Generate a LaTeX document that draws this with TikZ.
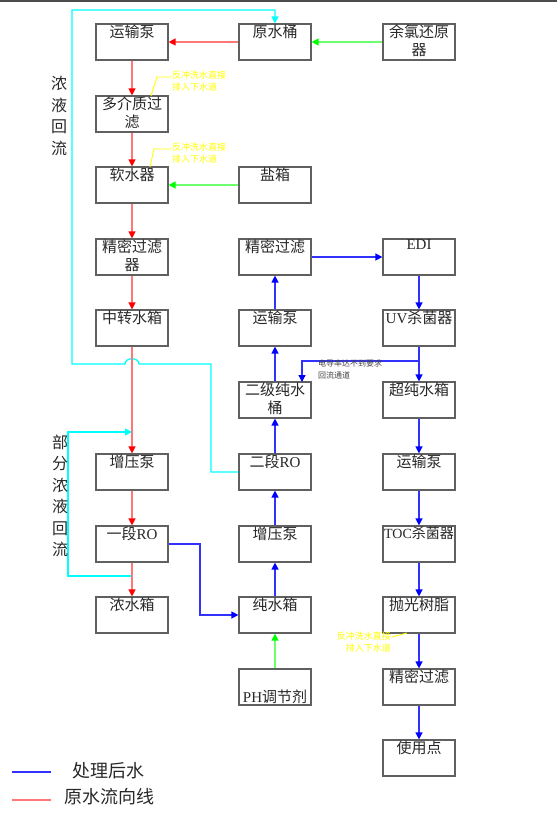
\documentclass[tikz,border=0pt]{standalone}
\usepackage{fontspec}
\setmainfont{Liberation Serif}
\newfontfamily\cjk{Noto Sans CJK SC}
\usetikzlibrary{arrows.meta}
\definecolor{boxgray}{RGB}{96,96,96}
\definecolor{redline}{RGB}{255,120,120}
\definecolor{redtip}{RGB}{255,0,0}
\definecolor{greenline}{RGB}{110,255,110}
\definecolor{greentip}{RGB}{0,255,0}
\definecolor{blueline}{RGB}{50,50,255}
\definecolor{bluetip}{RGB}{0,0,255}
\definecolor{cyanline}{RGB}{0,255,255}
\definecolor{notecol}{RGB}{255,255,0}
\definecolor{txt}{RGB}{40,40,40}
\begin{document}
\begin{tikzpicture}[x=1pt,y=-1pt,
  box/.style={draw=boxgray,line width=1.2pt,fill=white,minimum width=72pt,minimum height=36pt,inner sep=0pt},
  lbl/.style={anchor=north,inner sep=0pt,align=center,text=txt,font=\fontsize{15}{18}\selectfont\cjk},
  rarrow/.style={draw=redline,line width=1.3pt,-{Triangle[width=7pt,length=7pt,color=redtip]}},
  garrow/.style={draw=greenline,line width=1.3pt,-{Triangle[width=7pt,length=7pt,color=greentip]}},
  barrow/.style={draw=blueline,line width=1.3pt,-{Triangle[width=7pt,length=7pt,color=bluetip]}},
  carrow/.style={draw=cyanline,line width=1.3pt,-{Triangle[width=7pt,length=7pt,color=cyanline]}},
  note/.style={inner sep=0pt,text=notecol,font=\fontsize{9}{12}\selectfont\cjk},
  vlab/.style={inner sep=0pt,align=center,text=txt,font=\fontsize{16}{21.5}\selectfont\cjk}
]
\useasboundingbox (0,0) rectangle (557,813);
\fill[black!70] (0,0) rectangle (557,1.6);

% boxes column 1
\node[box] (a1) at (132,42) {};
\node[box] (a2) at (132,114) {};
\node[box] (a3) at (132,185) {};
\node[box] (a4) at (132,257) {};
\node[box] (a5) at (132,328) {};
\node[box] (a6) at (132,472) {};
\node[box] (a7) at (132,544) {};
\node[box] (a8) at (132,615) {};
% column 2
\node[box] (b1) at (275,42) {};
\node[box] (b2) at (275,185) {};
\node[box] (b3) at (275,257) {};
\node[box] (b4) at (275,328) {};
\node[box] (b5) at (275,400) {};
\node[box] (b6) at (275,472) {};
\node[box] (b7) at (275,544) {};
\node[box] (b8) at (275,615) {};
\node[box] (b9) at (275,687) {};
% column 3
\node[box] (c1) at (419,42) {};
\node[box] (c2) at (419,257) {};
\node[box] (c3) at (419,328) {};
\node[box] (c4) at (419,400) {};
\node[box] (c5) at (419,472) {};
\node[box] (c6) at (419,544) {};
\node[box] (c7) at (419,615) {};
\node[box] (c8) at (419,687) {};
\node[box] (c9) at (419,758) {};

% labels
\node[lbl] (ta1) at ([yshift=-1.5pt]a1.north) {运输泵};
\node[lbl] (ta2) at ([yshift=-1.5pt]a2.north) {多介质过\\滤};
\node[lbl] (ta3) at ([yshift=-1.5pt]a3.north) {软水器};
\node[lbl] (ta4) at ([yshift=-1.5pt]a4.north) {精密过滤\\器};
\node[lbl] (ta5) at ([yshift=-1.5pt]a5.north) {中转水箱};
\node[lbl] (ta6) at ([yshift=-1.5pt]a6.north) {增压泵};
\node[lbl] (ta7) at ([yshift=-1.5pt]a7.north) {一段{\rmfamily RO}};
\node[lbl] (ta8) at ([yshift=-1.5pt]a8.north) {浓水箱};
\node[lbl] (tb1) at ([yshift=-1.5pt]b1.north) {原水桶};
\node[lbl] (tb2) at ([yshift=-1.5pt]b2.north) {盐箱};
\node[lbl] (tb3) at ([yshift=-1.5pt]b3.north) {精密过滤};
\node[lbl] (tb4) at ([yshift=-1.5pt]b4.north) {运输泵};
\node[lbl] (tb5) at ([yshift=-1.5pt]b5.north) {二级纯水\\桶};
\node[lbl] (tb6) at ([yshift=-1.5pt]b6.north) {二段{\rmfamily RO}};
\node[lbl] (tb7) at ([yshift=-1.5pt]b7.north) {增压泵};
\node[lbl] (tb8) at ([yshift=-1.5pt]b8.north) {纯水箱};
\node[lbl,anchor=south] (tb9) at ([yshift=2pt]b9.south) {{\rmfamily PH}调节剂};
\node[lbl] (tc1) at ([yshift=-1.5pt]c1.north) {余氯还原\\器};
\node[lbl] (tc2) at ([yshift=-1.5pt]c2.north) {{\rmfamily EDI}};
\node[lbl] (tc3) at ([yshift=-1.5pt]c3.north) {{\rmfamily UV}杀菌器};
\node[lbl] (tc4) at ([yshift=-1.5pt]c4.north) {超纯水箱};
\node[lbl] (tc5) at ([yshift=-1.5pt]c5.north) {运输泵};
\node[lbl,font=\fontsize{14}{18}\selectfont\cjk] (tc6) at ([yshift=-1.5pt]c6.north) {{\rmfamily TOC}杀菌器};
\node[lbl] (tc7) at ([yshift=-1.5pt]c7.north) {抛光树脂};
\node[lbl] (tc8) at ([yshift=-1.5pt]c8.north) {精密过滤};
\node[lbl] (tc9) at ([yshift=-1.5pt]c9.north) {使用点};

% cyan return lines (drawn first, under red)
\draw[carrow] (b6.west) -- (211,472) -- (211,364) -- (139,364)
   .. controls (139,357) and (125,357) .. (125,364) -- (72,364) -- (72,10) -- (275,10) -- (b1.north);
\coordinate (p1) at (132,576);
\coordinate (p2) at (132,432);
\draw[carrow] (p1) -- (68,576) -- (68,432) -- (p2);

% red flow
\draw[rarrow] (b1.west) -- (a1.east);
\draw[rarrow] (a1.south) -- (a2.north);
\draw[rarrow] (a2.south) -- (a3.north);
\draw[rarrow] (a3.south) -- (a4.north);
\draw[rarrow] (a4.south) -- (a5.north);
\draw[rarrow] (a5.south) -- (a6.north);
\draw[rarrow] (a6.south) -- (a7.north);
\draw[rarrow] (a7.south) -- (a8.north);

% green
\draw[garrow] (c1.west) -- (b1.east);
\draw[garrow] (b2.west) -- (a3.east);
\draw[garrow] (b9.north) -- (b8.south);

% blue
\draw[barrow] (a7.east) -- (200,544) -- (200,615) -- (b8.west);
\draw[barrow] (b8.north) -- (b7.south);
\draw[barrow] (b7.north) -- (b6.south);
\draw[barrow] (b6.north) -- (b5.south);
\draw[barrow] (b5.north) -- (b4.south);
\draw[barrow] (b4.north) -- (b3.south);
\draw[barrow] (b3.east) -- (c2.west);
\draw[barrow] (c2.south) -- (c3.north);
\draw[barrow] (c3.south) -- (c4.north);
\draw[barrow] (c4.south) -- (c5.north);
\draw[barrow] (c5.south) -- (c6.north);
\draw[barrow] (c6.south) -- (c7.north);
\draw[barrow] (c7.south) -- (c8.north);
\draw[barrow] (c8.south) -- (c9.north);
\coordinate (p3) at (419,361);
\draw[barrow] (p3) -- (302,361) -- (302,382);

% gray note
\node[inner sep=0pt,anchor=north west,align=left,text=black!75,font=\fontsize{8}{12}\selectfont\cjk] (gn) at (318,360) {电导率达不到要求\\回流通道};

% yellow notes
\node[note,anchor=north west,align=left] (y1) at (172,71) {反冲洗水直接\\排入下水道};
\draw[notecol,line width=0.9pt] (151,96) -- (157,77) -- (171,77);
\node[note,anchor=north west,align=left] (y2) at (172,143) {反冲洗水直接\\排入下水道};
\draw[notecol,line width=0.9pt] (150,167) -- (154,149) -- (171,149);
\node[note,anchor=north east,align=right] (y3) at (391,632) {反冲洗水直接\\排入下水道};
\draw[notecol,line width=0.9pt] (392,637) -- (407,633);

% vertical labels
\node[vlab] (v1) at (59,116) {浓\\液\\回\\流};
\node[vlab] (v2) at (60,496) {部\\分\\浓\\液\\回\\流};

% legend
\coordinate (l1a) at (12,772); \coordinate (l1b) at (51,772);
\coordinate (l2a) at (12,800); \coordinate (l2b) at (51,800);
\draw[blueline,line width=1.2pt] (l1a) -- (l1b);
\draw[redline,line width=1.2pt] (l2a) -- (l2b);
\node[inner sep=0pt,text=txt,font=\fontsize{18}{20}\selectfont\cjk] (lg1) at (108,771) {处理后水};
\node[inner sep=0pt,text=txt,font=\fontsize{18}{20}\selectfont\cjk] (lg2) at (109,797) {原水流向线};
\end{tikzpicture}
\end{document}
